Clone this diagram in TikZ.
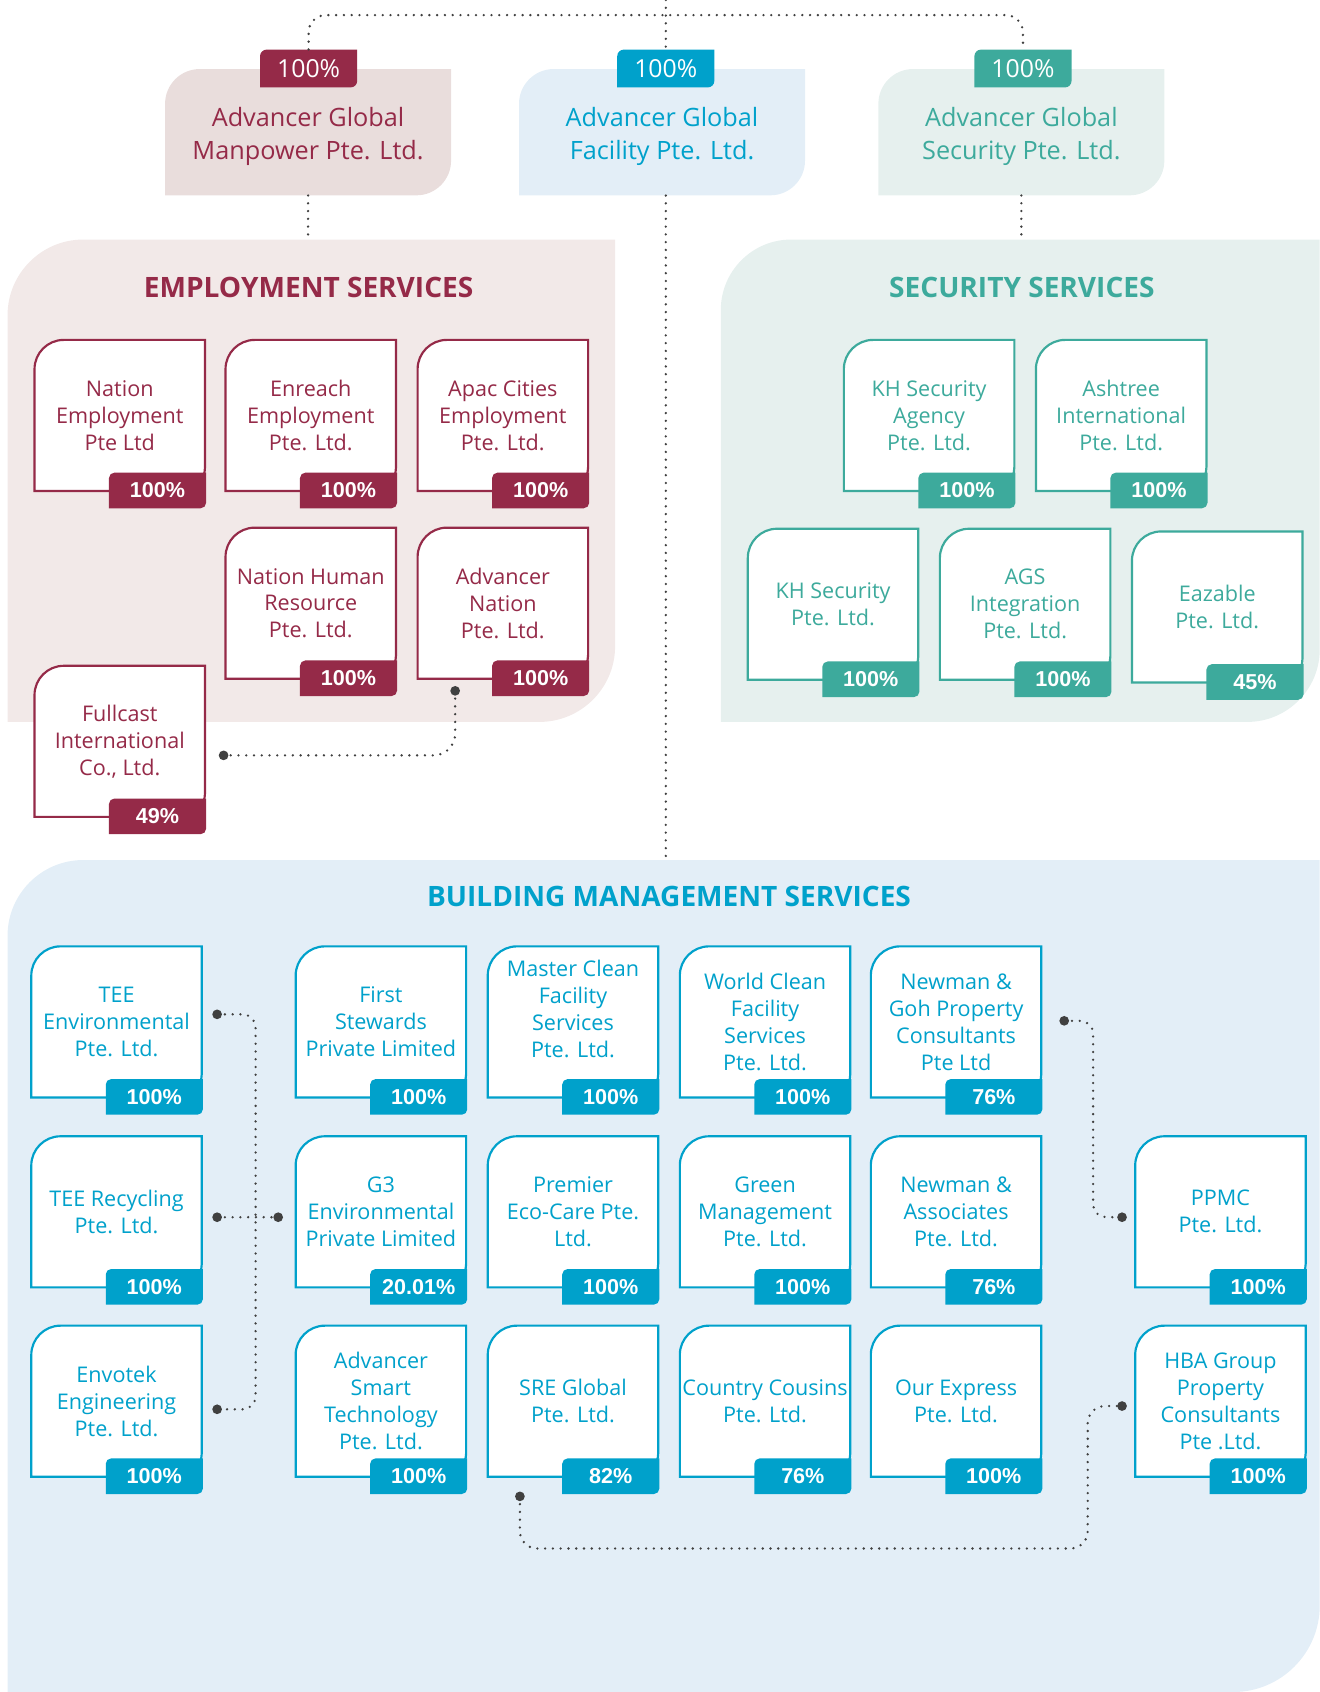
\documentclass[tikz,border=0pt]{standalone}
\usepackage{fontspec}
\setmainfont{Open Sans}
\newfontfamily\cifras{Liberation Sans}
\usetikzlibrary{calc}

\definecolor{granate}{RGB}{149,42,72}
\definecolor{turquesa}{RGB}{61,170,156}
\definecolor{azul}{RGB}{0,161,203}
\definecolor{gris}{RGB}{64,64,64}
\definecolor{rosa}{RGB}{242,233,232}
\definecolor{rosaosc}{RGB}{233,221,220}
\definecolor{verdeclaro}{RGB}{230,240,238}
\definecolor{celeste}{RGB}{227,238,247}

% contorno con esquinas redondeadas arriba-izq. y abajo-der.
% #1 estilo, #2 #3 esquina sup., #4 #5 esquina inf., #6 #7 radios
\newcommand{\hoja}[7]{%
  \path[#1] (#2,#5) -- (#2,#3+#6)
    .. controls (#2,#3+0.45*#6) and (#2+0.45*#6,#3) .. (#2+#6,#3)
    -- (#4,#3) -- (#4,#5-#7)
    .. controls (#4,#5-0.45*#7) and (#4-0.45*#7,#5) .. (#4-#7,#5) -- cycle;}

\begin{document}
\begin{tikzpicture}[x=1pt, y=-1pt,
  punteado/.style={draw=gris, line width=2.4pt, line cap=round, dash pattern=on 0pt off 7.2pt},
  texto/.style={align=center, inner sep=0pt, minimum width=158pt, minimum height=140pt, font=\fontsize{20}{25}\selectfont},
  caja/.style={align=center, inner sep=0pt, minimum width=265pt, minimum height=109pt, font=\fontsize{23.4}{30}\selectfont},
  cifra/.style={text=white, inner sep=0pt, minimum width=90pt, minimum height=33pt, font=\cifras\bfseries\fontsize{20}{24}\selectfont},
  cifra0/.style={text=white, inner sep=0pt, minimum width=90pt, minimum height=35pt, font=\fontsize{23}{28}\selectfont},
  titulo/.style={font=\bfseries\fontsize{26}{30}\selectfont}]
\useasboundingbox (0,0) rectangle (1223,1568);

% Paneles
\hoja{fill=rosa}{7}{222}{570}{669}{70}{70}
\hoja{fill=verdeclaro}{668}{222}{1223}{669}{65}{67}
\hoja{fill=celeste}{7}{797}{1223}{1568}{70}{80}
\node[titulo, text=granate] (emp) at (286,266) {EMPLOYMENT SERVICES};
\node[titulo, text=turquesa] (seg) at (947,266) {SECURITY SERVICES};
\node[titulo, text=azul] (edif) at (620,831) {BUILDING MANAGEMENT SERVICES};
\coordinate (emp-n) at (285.5,222);
\coordinate (seg-n) at (946.5,222);
\coordinate (edif-n) at (617,797);
\coordinate (raiz) at (617,0);
\coordinate (cima) at (617,14);

% Empresas matrices
\hoja{fill=rosaosc}{153}{64}{418}{181}{32}{32}
\hoja{fill=celeste}{481}{64}{746}{181}{32}{32}
\hoja{fill=verdeclaro}{814}{64}{1079}{181}{32}{32}
\node[caja, text=granate] (mp) at (285.5,126.5) {Advancer Global\\Manpower Pte. Ltd.};
\node[caja, text=azul] (fac) at (613.5,126.5) {Advancer Global\\Facility Pte. Ltd.};
\node[caja, text=turquesa] (sec) at (946.5,126.5) {Advancer Global\\Security Pte. Ltd.};
\hoja{fill=granate}{241}{46}{331}{81}{6}{6}
\hoja{fill=azul}{572}{46}{662}{81}{6}{6}
\hoja{fill=turquesa}{903}{46}{993}{81}{6}{6}
\node[cifra0] (mp-p) at (286,63.5) {100\%};
\node[cifra0] (fac-p) at (617,63.5) {100\%};
\node[cifra0] (sec-p) at (948,63.5) {100\%};

% Empleo
\foreach \nom/\cx/\cy/\txt/\pct in {
  ne/111/385/{Nation\\Employment\\Pte Ltd}/100\%,
  ee/288/385/{Enreach\\Employment\\Pte. Ltd.}/100\%,
  ac/466/385/{Apac Cities\\Employment\\Pte. Ltd.}/100\%,
  nh/288/559/{Nation Human\\Resource\\Pte. Ltd.}/100\%,
  an/466/559/{Advancer\\Nation\\Pte. Ltd.}/100\%,
  fc/111/687/{Fullcast\\International\\Co., Ltd.}/49\%}{
  \hoja{draw=granate, line width=2pt, fill=white}{\cx-79}{\cy-70}{\cx+79}{\cy+70}{27}{22}
  \node[texto, text=granate] (\nom) at (\cx,\cy) {\txt};
  \hoja{fill=granate}{\cx-10}{\cy+53}{\cx+80}{\cy+86}{5}{5}
  \node[cifra] (\nom-p) at (\cx+35,\cy+69.5) {\pct};
}

% Seguridad
\foreach \nom/\cx/\cy/\txt/\pct in {
  ks/861/385/{KH Security\\Agency\\Pte. Ltd.}/100\%,
  at/1039/385/{Ashtree\\International\\Pte. Ltd.}/100\%,
  kp/772/560/{KH Security\\Pte. Ltd.}/100\%,
  ag/950/560/{AGS\\Integration\\Pte. Ltd.}/100\%,
  ez/1128/562.5/{Eazable\\Pte. Ltd.}/45\%}{
  \hoja{draw=turquesa, line width=2pt, fill=white}{\cx-79}{\cy-70}{\cx+79}{\cy+70}{27}{22}
  \node[texto, text=turquesa] (\nom) at (\cx,\cy) {\txt};
  \hoja{fill=turquesa}{\cx-10}{\cy+53}{\cx+80}{\cy+86}{5}{5}
  \node[cifra] (\nom-p) at (\cx+35,\cy+69.5) {\pct};
}

% Gestion de edificios
\foreach \nom/\cx/\cy/\dy/\txt/\pct in {
  tee/108/947/0/{TEE\\Environmental\\Pte. Ltd.}/100\%,
  fs/353/947/0/{First\\Stewards\\Private Limited}/100\%,
  mc/531/947/12/{Master Clean\\Facility\\Services\\Pte. Ltd.}/100\%,
  wc/709/947/0/{World Clean\\Facility\\Services\\Pte. Ltd.}/100\%,
  ng/886/947/0/{Newman \&\\Goh Property\\Consultants\\Pte Ltd}/76\%,
  ter/108/1123/0/{TEE Recycling\\Pte. Ltd.}/100\%,
  g3/353/1123/0/{G3\\Environmental\\Private Limited}/20.01\%,
  pe/531/1123/0/{Premier\\Eco-Care Pte.\\Ltd.}/100\%,
  gm/709/1123/0/{Green\\Management\\Pte. Ltd.}/100\%,
  na/886/1123/0/{Newman \&\\Associates\\Pte. Ltd.}/76\%,
  pp/1131/1123/0/{PPMC\\Pte. Ltd.}/100\%,
  env/108/1298.5/0/{Envotek\\Engineering\\Pte. Ltd.}/100\%,
  ast/353/1298.5/0/{Advancer\\Smart\\Technology\\Pte. Ltd.}/100\%,
  sre/531/1298.5/0/{SRE Global\\Pte. Ltd.}/82\%,
  cc/709/1298.5/0/{Country Cousins\\Pte. Ltd.}/76\%,
  oe/886/1298.5/0/{Our Express\\Pte. Ltd.}/100\%,
  hba/1131/1298.5/0/{HBA Group\\Property\\Consultants\\Pte .Ltd.}/100\%}{
  \hoja{draw=azul, line width=2pt, fill=white}{\cx-79}{\cy-70}{\cx+79}{\cy+70}{27}{22}
  \node[texto, text=azul, yshift=\dy pt] (\nom) at (\cx,\cy) {\txt};
  \hoja{fill=azul}{\cx-10}{\cy+53}{\cx+80}{\cy+86}{5}{5}
  \node[cifra] (\nom-p) at (\cx+35,\cy+69.5) {\pct};
}

% Conectores
\coordinate (e1) at ($(an.south west)+(35,11)$);
\coordinate (e2) at ($(fc.east)+(17,13)$);
\coordinate (b1) at ($(tee.east)+(14,-7)$);
\coordinate (b2) at ($(ter.east)+(14,5)$);
\coordinate (b3) at ($(env.east)+(14,7.5)$);
\coordinate (b4) at ($(g3.west)+(-16,5)$);
\coordinate (eje) at ($(b2)!.63!(b4)$);
\coordinate (r1) at ($(ng.east)+(21,-1)$);
\coordinate (r2) at ($(pp.west)+(-12,5)$);
\coordinate (s1) at ($(sre.south west)+(30,18)$);
\coordinate (s2) at ($(hba.west)+(-12,4.5)$);
\coordinate (bajo) at (1008,1435);

\draw[punteado, rounded corners=16pt] (mp-p.north) |- (cima) -| (sec-p.north);
\draw[punteado] (raiz) -- (fac-p.north);
\draw[punteado] (mp.south) -- (emp-n);
\draw[punteado] (sec.south) -- (seg-n);
\draw[punteado] (fac.south -| raiz) -- (edif-n);
\draw[punteado, rounded corners=20pt] (e1) |- (e2);
\draw[punteado, rounded corners=12pt] (b1) -| (eje) |- (b3);
\draw[punteado] (b2) -- (b4);
\draw[punteado, rounded corners=12pt] (r1) -| ($(r1)!.5!(r2)$) |- (r2);
\draw[punteado, rounded corners=16pt] (s1) |- (bajo) |- (s2);
\foreach \q in {e1,e2,b1,b2,b3,b4,r1,r2,s1,s2}
  \fill[gris] (\q) circle (4.5pt);
\end{tikzpicture}
\end{document}
